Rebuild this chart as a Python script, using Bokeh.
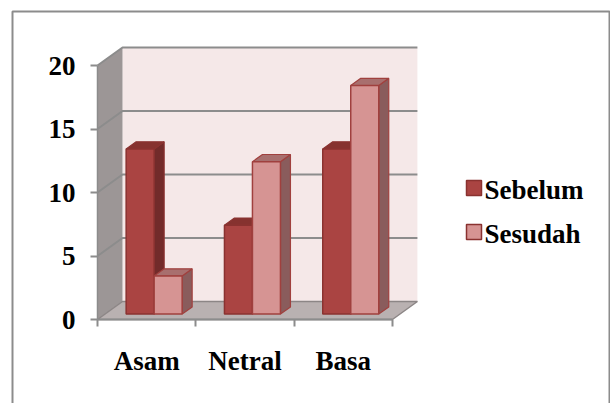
from bokeh.plotting import figure
from bokeh.models import Range1d, FixedTicker
from bokeh.core.properties import value
from bokeh.embed import file_html
from bokeh.resources import INLINE

# data
categories = ["Asam", "Netral", "Basa"]
series = ["Sebelum", "Sesudah"]
sebelum = [13, 7, 13]
sesudah = [3, 12, 18]
y_ticks = [0, 5, 10, 15, 20]

# layout (pixels)
W, H = 610, 403
X0, Y0 = 97, 319      # front corner of the floor (value 0, left edge)
XU = 98.3             # pixels per category slot
YU = 12.7             # pixels per value unit


def px_x(x):
    return (x - X0) / XU


def px_y(y):
    return (Y0 - y) / YU


DX = 25 / XU          # depth offset of the back wall
DY = 18 / YU
BW = 28 / XU          # bar width
F0, FD = 0.3, 0.4     # bar front depth and bar thickness (fraction of wall depth)
TOP = max(y_ticks)
NCAT = len(categories)
FONT = "Liberation Serif"
FSIZE = "27px"

front_cols = ["#AA4442", "#D69493"]
top_cols = ["#86322F", "#A86F6E"]
side_cols = ["#722B2A", "#8A5C5C"]
edge_cols = ["#8A3230", "#A0403E"]
grid_col = "#8C8C8C"

p = figure(width=W, height=H, x_range=Range1d(-X0 / XU, (W - X0) / XU),
           y_range=Range1d(-(H - Y0) / YU, Y0 / YU),
           min_border=0, toolbar_location=None, output_backend="svg")
p.grid.visible = False
p.outline_line_color = None
p.background_fill_color = "white"
p.border_fill_color = "white"

# chart border
bx = [px_x(12), px_x(12), px_x(609), px_x(609)]
by = [px_y(420), px_y(11), px_y(11), px_y(420)]
p.line(bx, by, line_color="#8C8C8C", line_width=2)

# walls and floor
p.patch([DX, NCAT + DX, NCAT + DX, DX], [DY, DY, TOP + DY, TOP + DY],
        fill_color="#F5E8E8", line_color=None)
p.patch([0, DX, DX, 0], [0, DY, TOP + DY, TOP], fill_color="#9C9696", line_color=None)
p.patch([0, NCAT, NCAT + DX, DX], [0, 0, DY, DY], fill_color="#B9B1B1",
        line_color="#8C8686", line_width=1.5)

# gridlines on back wall and side wall
for t in y_ticks[1:]:
    p.line([0, DX, NCAT + DX], [t, t + DY, t + DY], line_color=grid_col, line_width=2)

# 3D bars
for j, vals in enumerate([sebelum, sesudah]):
    lefts, rights, bottoms, tops = [], [], [], []
    txs, tys, sxs, sys_ = [], [], [], []
    bdx, bdy = FD * DX, FD * DY
    for i, v in enumerate(vals):
        l = i + 0.5 + (j - 1) * BW + F0 * DX
        r = l + BW
        b = F0 * DY
        t = v + F0 * DY
        lefts.append(l); rights.append(r); bottoms.append(b); tops.append(t)
        txs.append([l, r, r + bdx, l + bdx]); tys.append([t, t, t + bdy, t + bdy])
        sxs.append([r, r + bdx, r + bdx, r]); sys_.append([b, b + bdy, t + bdy, t])
    p.patches(sxs, sys_, fill_color=side_cols[j], line_color=edge_cols[j], line_width=1.2)
    p.patches(txs, tys, fill_color=top_cols[j], line_color=edge_cols[j], line_width=1.2)
    p.quad(left=lefts, right=rights, bottom=bottoms, top=tops,
           fill_color=front_cols[j], line_color=edge_cols[j], line_width=1.5)

# legend
for j, name in enumerate(series):
    cy = 187.5 + 44 * j
    p.rect([px_x(473.5)], [px_y(cy)], width=15, height=15, width_units="screen",
           height_units="screen", fill_color=front_cols[j], line_color="#8A3230",
           line_width=1.5)
    p.text([px_x(484)], [px_y(cy + 2)], text=[name], text_font=value(FONT),
           text_font_style="bold", text_font_size=FSIZE, text_baseline="middle",
           text_color="black")

# value axis
ya = p.yaxis[0]
ya.fixed_location = 0
ya.ticker = FixedTicker(ticks=y_ticks, minor_ticks=[])
ya.bounds = (0, TOP)
ya.axis_line_color = grid_col
ya.axis_line_width = 1.5
ya.major_tick_line_color = grid_col
ya.major_tick_line_width = 2
ya.major_tick_out = 7
ya.major_tick_in = 0
ya.major_label_standoff = 15
ya.major_label_text_font = FONT
ya.major_label_text_font_style = "bold"
ya.major_label_text_font_size = FSIZE
ya.major_label_text_color = "black"

# category axis
xa = p.xaxis[0]
xa.fixed_location = 0
xa.ticker = FixedTicker(ticks=[i + 0.5 for i in range(NCAT)],
                        minor_ticks=list(range(NCAT + 1)))
xa.major_label_overrides = {i + 0.5: c for i, c in enumerate(categories)}
xa.bounds = (0, NCAT)
xa.axis_line_color = grid_col
xa.axis_line_width = 2
xa.major_tick_line_color = None
xa.major_tick_out = 0
xa.major_tick_in = 0
xa.minor_tick_line_color = grid_col
xa.minor_tick_line_width = 2
xa.minor_tick_out = 7
xa.minor_tick_in = 0
xa.major_label_standoff = 19
xa.major_label_text_font = FONT
xa.major_label_text_font_style = "bold"
xa.major_label_text_font_size = FSIZE
xa.major_label_text_color = "black"

open("out.html", "w").write(file_html(p, INLINE))
